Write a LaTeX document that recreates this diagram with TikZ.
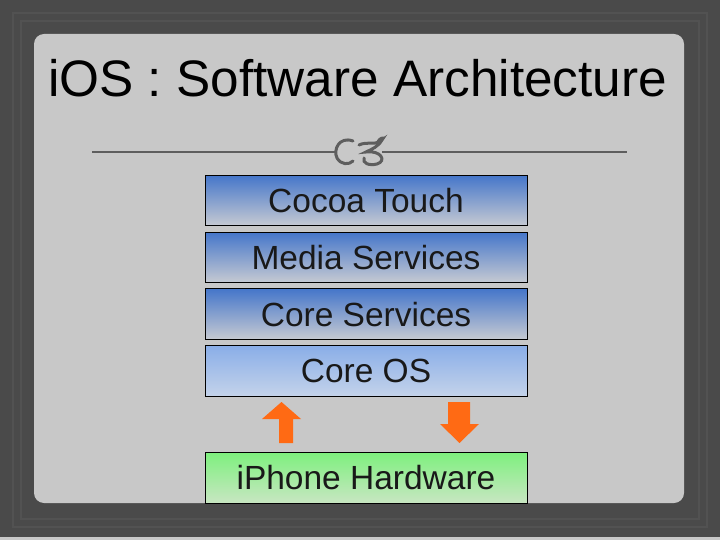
\documentclass[tikz,border=0pt]{standalone}
\usepackage{fontspec}
\setmainfont{Liberation Sans}
\usetikzlibrary{positioning}
\definecolor{framegray}{HTML}{4A4A4A}
\definecolor{framelinegray}{HTML}{525252}
\definecolor{panelgray}{HTML}{C8C8C8}
\definecolor{rulegray}{HTML}{5E5E5E}
\definecolor{layertop}{HTML}{4576CA}
\definecolor{layerbot}{HTML}{C6CAD2}
\definecolor{ostop}{HTML}{8AAEE8}
\definecolor{osbot}{HTML}{C4D3EA}
\definecolor{hwtop}{HTML}{7EF07E}
\definecolor{hwbot}{HTML}{C8E6C2}
\definecolor{arroworange}{HTML}{FF6A14}
\tikzset{
  layer/.style = {draw=black, line width=0.8pt, inner sep=0pt, minimum width=322pt, minimum height=50.5pt,
    font=\fontsize{33.5}{36}\selectfont, text=black!90, top color=layertop, bottom color=layerbot},
  oslayer/.style = {layer, top color=ostop, bottom color=osbot},
  hwlayer/.style = {layer, top color=hwtop, bottom color=hwbot},
  bigarrow/.style = {fill=arroworange},
  ornament/.style = {draw=rulegray, line width=3pt, line cap=round},
}

\begin{document}
\begin{tikzpicture}[x=1pt,y=-1pt]
\useasboundingbox (0,0) rectangle (720,540);
% slide frame and panel
\fill[framegray] (0,0) rectangle (720,540);
\draw[framelinegray, line width=1.2pt] (13,13) rectangle (707,527);
\draw[framelinegray, line width=1.2pt] (21,21) rectangle (699,519);
\fill[panelgray] (0,537) rectangle (720,540);
\fill[panelgray, rounded corners=10pt] (34,34) rectangle (684,503);

\node [anchor=base west, inner sep=0pt, font=\fontsize{51.3}{60}\selectfont] (title) at (48,97) {iOS : Software Architecture};

% rule under the title
\coordinate (ruleL) at (92,152);
\coordinate (ruleR) at (627,152);
\draw[rulegray, line width=2pt] (ruleL) -- (336,152);
\draw[rulegray, line width=2pt] (382,152) -- (ruleR);
\draw[ornament] (353,141) .. controls (339,136) and (333,150) .. (337,158) .. controls (341,165) and (349,165) .. (353,161);
\draw[ornament] (359,145) .. controls (367,141) and (375,146) .. (382,140) .. controls (378,147) and (372,149) .. (366,152)
  .. controls (381,150) and (387,161) .. (377,164) .. controls (369,166) and (362,163) .. (364,158);
\fill[rulegray] (376,142) .. controls (379,136) and (383,136) .. (385,137) .. controls (384,141) and (380,143) .. cycle;

% layers
\node [layer] (cocoa) at (366,200.5) {Cocoa Touch};
\node [layer, below=5.5pt of cocoa] (media) {Media Services};
\node [layer, below=5.5pt of media] (coreserv) {Core Services};
\node [oslayer, below=5.5pt of coreserv] (coreos) {Core OS};
\node [hwlayer, below=55.5pt of coreos] (hardware) {iPhone Hardware};

% up and down arrows
\fill[bigarrow] (279,443) -- (293,443) -- (293,419) -- (301,419) -- (281.5,402) -- (262,419) -- (279,419) -- cycle;
\fill[bigarrow] (448,402) -- (470,402) -- (470,424) -- (479,424) -- (459.5,443) -- (440,424) -- (448,424) -- cycle;
\end{tikzpicture}
\end{document}
